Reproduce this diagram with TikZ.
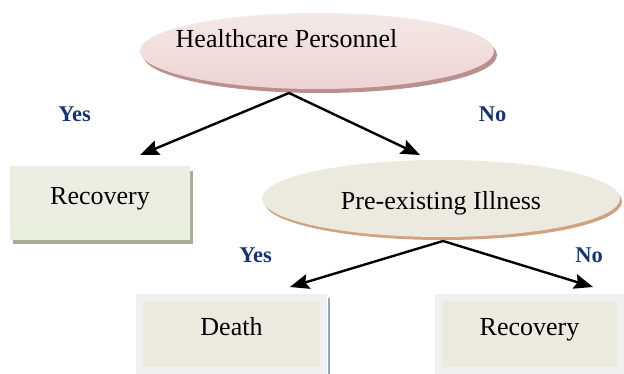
\documentclass[tikz,border=0pt]{standalone}
\usepackage{fontspec}
\setmainfont{Liberation Serif}
\usepackage{xcolor}
\usepackage{tikz}
\usetikzlibrary{shapes,shadows,arrows.meta}
\definecolor{navy}{RGB}{23,54,110}
\definecolor{pinkTop}{RGB}{243,233,230}
\definecolor{pinkBot}{RGB}{238,211,212}
\definecolor{pinkShade}{RGB}{186,144,142}
\definecolor{sandFill}{RGB}{236,233,223}
\definecolor{sandShade}{RGB}{207,163,128}
\definecolor{sageTop}{RGB}{238,237,228}
\definecolor{sageBot}{RGB}{232,240,221}
\definecolor{sageShade}{RGB}{167,172,150}
\definecolor{rimGray}{RGB}{240,240,240}
\definecolor{rimBlue}{RGB}{143,166,180}
\tikzstyle{issue}=[ellipse,inner sep=0,outer sep=0,font=\fontsize{26}{30}\selectfont]
\tikzstyle{outcome}=[rectangle,inner sep=0,outer sep=0,font=\fontsize{26}{30}\selectfont]
\tikzstyle{leaf}=[outcome,draw=rimGray,line width=7pt,fill=sandFill,text height=17pt,text depth=15pt]
\tikzstyle{answer}=[anchor=base,text=navy,font=\fontsize{22.5}{26}\bfseries\selectfont]
\tikzstyle{branch}=[draw,line width=2.4pt,black,-{Stealth[length=19pt,width=15pt,inset=3pt]}]

\begin{document}
\begin{tikzpicture}[x=1pt,y=-1pt]
	\useasboundingbox (0,0) rectangle (624,374);

	\node[issue,minimum width=354,minimum height=76,top color=pinkTop,bottom color=pinkBot,
	drop shadow={shadow xshift=3pt,shadow yshift=-4pt,fill=pinkShade,opacity=1},
	label={[font=\fontsize{26}{30}\selectfont,xshift=-30.5pt,yshift=12.8pt]center:Healthcare Personnel}]
	(hp) at (317,51) {};

	\node[outcome,minimum width=180,minimum height=73,top color=sageTop,bottom color=sageBot,
	text height=15pt,text depth=12pt,
	drop shadow={shadow xshift=3pt,shadow yshift=-4pt,fill=sageShade,opacity=1}]
	(rec1) at (100,203.5) {Recovery};

	\node[issue,minimum width=358,minimum height=77,fill=sandFill,text height=25pt,text depth=2pt,
	drop shadow={shadow xshift=2pt,shadow yshift=-3pt,fill=sandShade,opacity=1}]
	(pi) at (441,198.5) {Pre-existing Illness};

	\node[answer] (y1) at (74.5,122) {Yes};
	\node[answer] (n1) at (492.5,122) {No};

	\path[branch] ([xshift=-28pt,yshift=-4pt]hp.south) -- ([xshift=40pt,yshift=12pt]rec1.north);
	\path[branch] ([xshift=-28pt,yshift=-4pt]hp.south) -- ([xshift=-21pt,yshift=5pt]pi.north);

% % % second level

	\node[leaf,minimum width=184,minimum height=73] (dth) at (231.5,334) {Death};
	\node[leaf,minimum width=182,minimum height=73] (rec2) at (529.5,334) {Recovery};

	\draw[rimBlue,line width=1.6pt] ([xshift=5.5pt]dth.north east) -- ([xshift=5.5pt,yshift=-3.5pt]dth.south east);

	\node[answer] (y2) at (255.5,262) {Yes};
	\node[answer] (n2) at (589,262) {No};

	\path[branch] ([xshift=2pt,yshift=-4pt]pi.south) -- ([xshift=58.5pt,yshift=10.5pt]dth.north);
	\path[branch] ([xshift=2pt,yshift=-4pt]pi.south) -- ([xshift=63.5pt,yshift=10.5pt]rec2.north);

\end{tikzpicture}
\end{document}
